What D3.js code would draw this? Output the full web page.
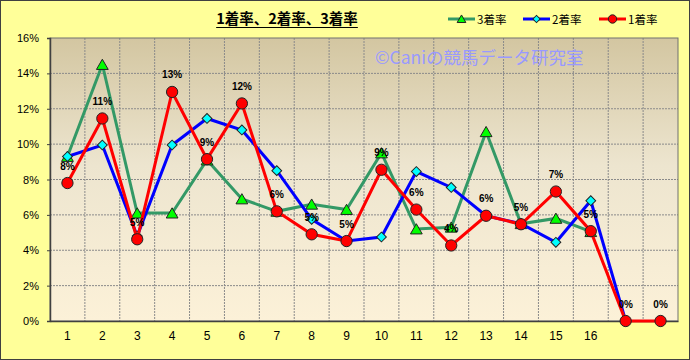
<!DOCTYPE html>
<html>
<head>
<meta charset="utf-8">
<script src="https://cdn.jsdelivr.net/npm/d3@7/dist/d3.min.js"></script>
<style>
html,body{margin:0;padding:0;background:#fff;}
svg{display:block;}
</style>
</head>
<body>
<svg id="chart" width="690" height="360"></svg>
<script>
// ---- data ----
const categories = ["1","2","3","4","5","6","7","8","9","10","11","12","13","14","15","16","17","18"];
const xTickLabels = ["1","2","3","4","5","6","7","8","9","10","11","12","13","14","15","16","",""];
const rate3 = [9.3,14.5,6.1,6.1,9.1,6.9,6.2,6.6,6.3,9.5,5.2,5.3,10.7,5.5,5.8,5.05,null,null];
const rate2 = [9.3,9.95,4.8,9.95,11.45,10.8,8.5,5.75,4.52,4.75,8.45,7.55,5.95,5.5,4.45,6.8,0,null];
const rate1 = [7.8,11.45,4.62,12.95,9.15,12.3,6.2,4.9,4.52,8.55,6.3,4.27,5.95,5.47,7.32,5.08,0,0];
const yTicks = [0,2,4,6,8,10,12,14,16];
const seriesNames = ["3着率","2着率","1着率"];
const titleText = "1着率、2着率、3着率";
const watermark = "©Caniの競馬データ研究室";

// ---- layout ----
const W = 690, H = 360;
const plot = {x0: 50, x1: 678, y0: 38, y1: 321};
const svg = d3.select("#chart");

const defs = svg.append("defs");
const grad = defs.append("linearGradient").attr("id","bg").attr("x1",0).attr("y1",0).attr("x2",0).attr("y2",1);
grad.append("stop").attr("offset","0%").attr("stop-color","#D3C6A1");
grad.append("stop").attr("offset","45%").attr("stop-color","#EDE5CF");
grad.append("stop").attr("offset","100%").attr("stop-color","#FCF1D8");

svg.append("rect").attr("x",0.5).attr("y",0.5).attr("width",W-1).attr("height",H-1)
  .attr("fill","#FFFF99").attr("stroke","#404040").attr("stroke-width",1);

const x = d3.scaleBand().domain(categories).range([plot.x0, plot.x1]).padding(0);
const y = d3.scaleLinear().domain([0,16]).range([plot.y1, plot.y0]);
const cx = d => x(d) + x.bandwidth()/2;

svg.append("rect").attr("x",plot.x0).attr("y",plot.y0)
  .attr("width",plot.x1-plot.x0).attr("height",plot.y1-plot.y0).attr("fill","url(#bg)");

// gridlines
const grid = svg.append("g");
yTicks.filter(t => t>0 && t<16).forEach(t => {
  grid.append("line").attr("x1",plot.x0).attr("x2",plot.x1).attr("y1",y(t)).attr("y2",y(t))
    .attr("stroke","#8a8a8a").attr("stroke-width",1).attr("stroke-dasharray","2,1");
});
categories.slice(1).forEach(c => {
  grid.append("line").attr("x1",x(c)).attr("x2",x(c)).attr("y1",plot.y0).attr("y2",plot.y1)
    .attr("stroke","#8a8a8a").attr("stroke-width",1).attr("stroke-dasharray","2,1");
});

// plot border
svg.append("rect").attr("x",plot.x0).attr("y",plot.y0)
  .attr("width",plot.x1-plot.x0).attr("height",plot.y1-plot.y0)
  .attr("fill","none").attr("stroke","#707070").attr("stroke-width",1);

// watermark
svg.append("text").attr("x",375).attr("y",64).attr("fill","#9999FF")
  .attr("font-family","'Noto Sans CJK JP', sans-serif").attr("font-size",17.5)
  .text(watermark);

// axes
const yAxis = d3.axisLeft(y).tickValues(yTicks).tickFormat(d => d + "%").tickSize(3).tickPadding(8);
const gy = svg.append("g").attr("transform",`translate(${plot.x0},0)`).call(yAxis);
gy.select(".domain").attr("stroke","#404040").attr("stroke-width",1.5);
gy.selectAll(".tick line").attr("stroke","#404040");
gy.selectAll("text").attr("font-family","'Liberation Sans', Arial, sans-serif").attr("font-size",11).attr("fill","#000");

const xAxis = d3.axisBottom(x).tickFormat((d,i) => xTickLabels[i]).tickSize(0).tickPadding(10);
const gx = svg.append("g").attr("transform",`translate(0,${plot.y1})`).call(xAxis);
gx.select(".domain").attr("stroke","#404040").attr("stroke-width",1.5);
gx.selectAll("text").attr("font-family","'Liberation Sans', Arial, sans-serif").attr("font-size",12).attr("fill","#000");

// series
const colors = ["#339966","#0000FF","#FF0000"];
const fills = ["#00FF00","#00FFFF","#FF0000"];
const symbols = [d3.symbolTriangle, d3.symbolSquare, d3.symbolCircle];
const symSize = [60, 48, 100];
const rot = [0, 45, 0];
const data = [rate3, rate2, rate1];

data.forEach((vals, si) => {
  const pts = vals.map((v,i) => ({c: categories[i], v})).filter(p => p.v !== null);
  const line = d3.line().x(p => cx(p.c)).y(p => y(p.v));
  svg.append("path").datum(pts).attr("d",line).attr("fill","none")
    .attr("stroke",colors[si]).attr("stroke-width",3).attr("stroke-linejoin","miter");
  svg.append("g").selectAll("path").data(pts).join("path")
    .attr("d", d3.symbol().type(symbols[si]).size(symSize[si]))
    .attr("transform", p => `translate(${cx(p.c)},${y(p.v) + (si===0 ? 1.5 : 0)}) rotate(${rot[si]})`)
    .attr("fill",fills[si]).attr("stroke","#222").attr("stroke-width",1);
});

// data labels for 1着率
svg.append("g").selectAll("text").data(rate1.map((v,i)=>({c:categories[i],v})).filter(p=>p.v!==null))
  .join("text")
  .attr("x",p => cx(p.c)).attr("y",p => y(p.v) - 13.5)
  .attr("text-anchor","middle").attr("font-family","'Liberation Sans', Arial, sans-serif")
  .attr("font-size",10).attr("font-weight","bold").attr("fill","#000")
  .text(p => Math.round(p.v) + "%");

// title
const title = svg.append("text").attr("x",287).attr("y",24).attr("text-anchor","middle")
  .attr("font-family","'Noto Sans CJK JP', sans-serif").attr("font-size",14.5).attr("font-weight","bold")
  .attr("fill","#000").text(titleText);
const tb = title.node().getBBox();
svg.append("line").attr("x1",tb.x).attr("x2",tb.x+tb.width).attr("y1",27.5).attr("y2",27.5)
  .attr("stroke","#000").attr("stroke-width",1);

// legend
const legendX = [448, 523, 599];
seriesNames.forEach((name, si) => {
  const g = svg.append("g").attr("transform",`translate(${legendX[si]},19)`);
  g.append("line").attr("x1",0).attr("x2",27).attr("y1",0).attr("y2",0)
    .attr("stroke",colors[si]).attr("stroke-width",3);
  g.append("path").attr("d", d3.symbol().type(symbols[si]).size(symSize[si]*0.55))
    .attr("transform",`translate(13.5,${si===0?1:0}) rotate(${rot[si]})`)
    .attr("fill",fills[si]).attr("stroke","#222").attr("stroke-width",1);
  g.append("text").attr("x",29).attr("y",4.5).attr("font-family","'Noto Sans CJK JP', sans-serif")
    .attr("font-size",11.5).attr("fill","#000").text(name);
});
</script>
</body>
</html>
